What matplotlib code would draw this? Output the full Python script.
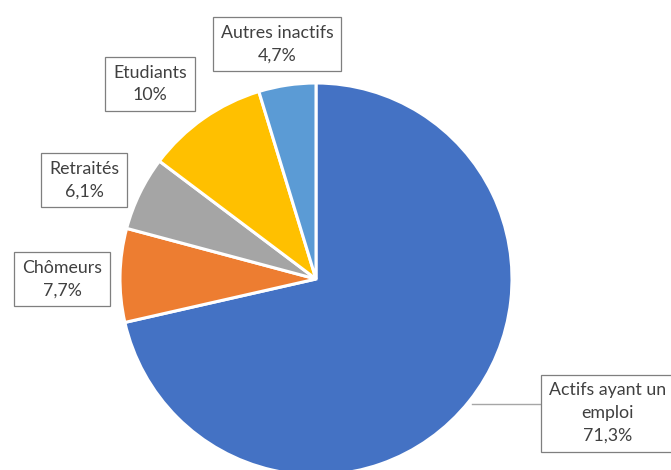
import numpy as np
import matplotlib
matplotlib.use("Agg")
import matplotlib.pyplot as plt

# Population by activity status (%)
categories = ["Actifs ayant un\nemploi", "Chômeurs", "Retraités", "Etudiants", "Autres inactifs"]
shares = [71.3, 7.7, 6.1, 10, 4.7]
share_labels = ["71,3%", "7,7%", "6,1%", "10%", "4,7%"]
colors = ["#4472C4", "#ED7D31", "#A5A5A5", "#FFC000", "#5B9BD5"]

W, H = 671, 470
fig = plt.figure(figsize=(W / 100, H / 100), dpi=100)
ax = fig.add_axes([0, 0, 1, 1])

cx, cy, r = 316, H - 279, 196
wedges, _ = ax.pie(shares, colors=colors, startangle=90, counterclock=False,
                   center=(cx, cy), radius=r, frame=True,
                   wedgeprops=dict(edgecolor="white", linewidth=2.2))
ax.set_xlim(0, W)
ax.set_ylim(0, H)
ax.set_aspect("equal")
ax.set_axis_off()

# label box centres (pixels from top-left)
label_pos = [(608, 413), (62, 279), (84, 180), (150, 84), (277, 44)]

font = dict(family=["Lato", "DejaVu Sans"], size=12.8, color="#404040")
box = dict(boxstyle="square,pad=0.45", facecolor="white", edgecolor="#7F7F7F", linewidth=0.9)

texts = []
for w, cat, lab, (lx, ly) in zip(wedges, categories, share_labels, label_pos):
    t = ax.text(lx, H - ly, f"{cat}\n{lab}", ha="center", va="center",
                multialignment="center", linespacing=1.5, bbox=box, zorder=5, **font)
    texts.append(t)

# leader line from the middle of the largest slice to its label box
fig.canvas.draw()
w0 = wedges[0]
ang = np.deg2rad((w0.theta1 + w0.theta2) / 2)
px = cx + r * 1.02 * np.cos(ang)
py = cy + r * 1.02 * np.sin(ang)
box_left = ax.transData.inverted().transform(
    texts[0].get_bbox_patch().get_window_extent().p0)[0]
ax.plot([px, box_left], [py, py], color="#A6A6A6", lw=1.0, zorder=4)

fig.savefig("out.png", dpi=100, facecolor="white")
